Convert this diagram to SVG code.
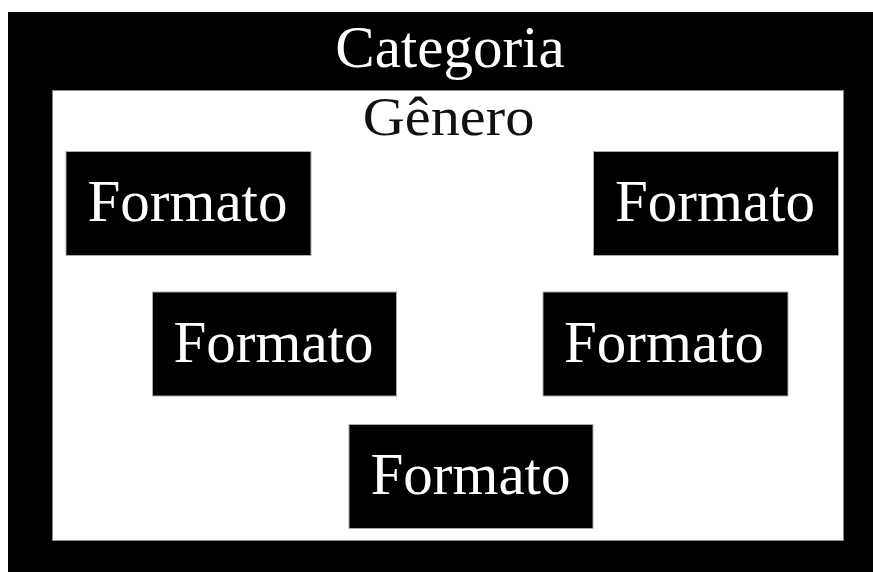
<svg xmlns="http://www.w3.org/2000/svg" width="873" height="572" viewBox="0 0 873 572">
  <style>
    .lbl { font-family: "Liberation Serif", "Times New Roman", serif; font-size: 59px; text-anchor: middle; }
    .box { fill: #000; stroke: #aaa; stroke-width: 1; }
    .light { fill: #fff; }
    .dark { fill: #111; }
  </style>
  <rect width="873" height="572" fill="#fff"/>
  <!-- Categoria container -->
  <g id="categoria">
    <rect x="8" y="12" width="880" height="580" fill="#000"/>
    <text class="lbl light" x="450" y="67">Categoria</text>
  </g>
  <!-- Gênero container; its title is set slightly wide -->
  <g id="genero">
    <rect x="52.5" y="90.5" width="791" height="450" fill="#fff" stroke="#888" stroke-width="1"/>
    <text class="lbl dark" style="font-size:54px" transform="translate(448.5 135) scale(1.08 1)">Gênero</text>
  </g>
  <g id="formato1">
    <rect class="box" x="66" y="151.5" width="245" height="104"/>
    <text class="lbl light" x="187.5" y="221">Formato</text>
  </g>
  <g id="formato2">
    <rect class="box" x="593.5" y="151.5" width="245" height="104"/>
    <text class="lbl light" x="715" y="221">Formato</text>
  </g>
  <g id="formato3">
    <rect class="box" x="152.5" y="292" width="244" height="104"/>
    <text class="lbl light" x="273.5" y="361.5">Formato</text>
  </g>
  <g id="formato4">
    <rect class="box" x="543" y="292" width="245" height="104"/>
    <text class="lbl light" x="664" y="361.5">Formato</text>
  </g>
  <g id="formato5">
    <rect class="box" x="349" y="424.5" width="244" height="104"/>
    <text class="lbl light" x="470.5" y="493.5">Formato</text>
  </g>
  <g id="connectors"></g>
</svg>
